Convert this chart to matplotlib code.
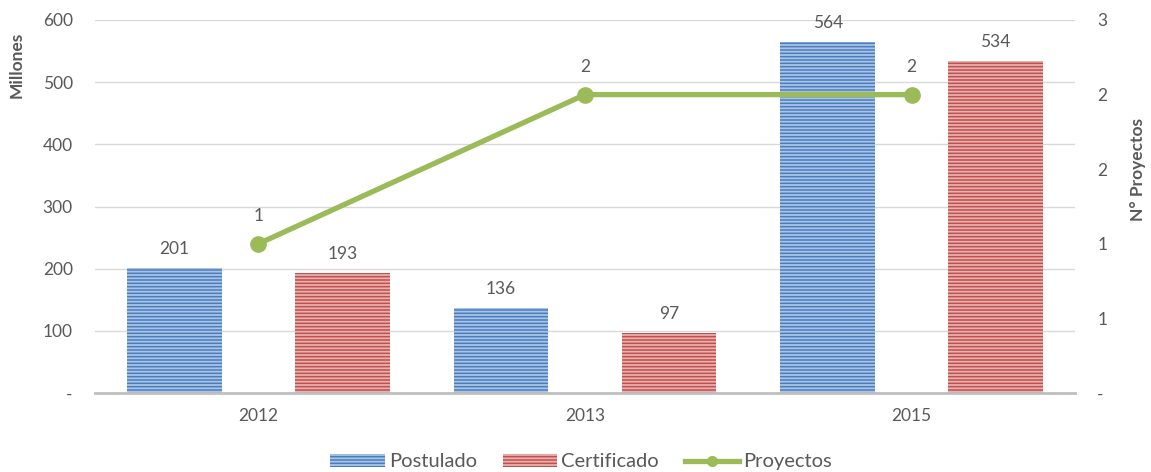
import matplotlib
matplotlib.use("Agg")
import matplotlib.pyplot as plt
import numpy as np
from matplotlib.lines import Line2D
from matplotlib.patches import Patch

plt.rcParams['font.family'] = ['Lato', 'DejaVu Sans']
plt.rcParams['hatch.linewidth'] = 1.3

years = ["2012", "2013", "2015"]
postulado = [201, 136, 564]
certificado = [193, 97, 534]
proyectos = [1, 2, 2]

text_color = "#595959"
blue = "#4a7ebb"
blue_light = "#a9c4e8"
red = "#c0504d"
red_light = "#e8b0ae"
green = "#9bbb59"

fig = plt.figure(figsize=(11.51, 4.72), dpi=100)
ax = fig.add_axes([95 / 1151, 1 - 393 / 472, 980 / 1151, 373 / 472])
ax2 = ax.twinx()

x = np.arange(len(years))
w = 0.29
off = 0.257

bars1 = ax.bar(x - off, postulado, w, facecolor=blue, edgecolor=blue_light,
               hatch="-----", linewidth=0, zorder=2)
bars2 = ax.bar(x + off, certificado, w, facecolor=red, edgecolor=red_light,
               hatch="-----", linewidth=0, zorder=2)

for b, v in zip(list(bars1) + list(bars2), postulado + certificado):
    ax.annotate(f"{v}", (b.get_x() + b.get_width() / 2, v), xytext=(0, 8),
                textcoords="offset points", ha="center", va="bottom",
                fontsize=12.5, color=text_color)

ax.set_xlim(-0.5, len(years) - 0.5)
ax.set_ylim(0, 600)
ax.set_yticks(range(0, 601, 100))
ax.set_yticklabels(["-"] + [str(v) for v in range(100, 601, 100)])
ax.grid(axis="y", color="#d9d9d9", linewidth=1, zorder=0)
ax.set_axisbelow(True)
ax.set_xticks(x)
ax.set_xticklabels(years)
ax.tick_params(axis="both", length=0, labelsize=12.5, colors=text_color)
ax.tick_params(axis="y", pad=16)
ax.tick_params(axis="x", pad=11)
for s in ["top", "left", "right"]:
    ax.spines[s].set_visible(False)
ax.spines["bottom"].set_color("#bfbfbf")
ax.spines["bottom"].set_linewidth(2)
ax.set_ylabel("Millones", fontsize=12.5, fontweight="bold", color=text_color)
ax.yaxis.set_label_coords(-0.072, 0.88)

ax2.plot(x, proyectos, color=green, linewidth=3.8, marker="o", markersize=11,
         zorder=3)
for xi, v in zip(x, proyectos):
    ax2.annotate(f"{v}", (xi, v), xytext=(0, 14), textcoords="offset points",
                 ha="center", va="bottom", fontsize=12.5, color=text_color)
ax2.set_ylim(0, 2.5)
r_ticks = [0, 0.5, 1.0, 1.5, 2.0, 2.5]
ax2.set_yticks(r_ticks)
ax2.set_yticklabels(["-", "1", "1", "2", "2", "3"])
ax2.tick_params(axis="y", length=0, labelsize=12.5, colors=text_color, pad=16)
for s in ["top", "left", "right", "bottom"]:
    ax2.spines[s].set_visible(False)
ax2.set_ylabel("N° Proyectos", fontsize=12.5, fontweight="bold",
               color=text_color)
ax2.yaxis.set_label_coords(1.056, 0.6)

handles = [
    Patch(facecolor=blue, edgecolor=blue_light, hatch="-----", linewidth=0),
    Patch(facecolor=red, edgecolor=red_light, hatch="-----", linewidth=0),
    Line2D([0], [0], color=green, linewidth=3.8, marker="o", markersize=7),
]
fig.legend(handles, ["Postulado", "Certificado", "Proyectos"],
           loc="lower center", bbox_to_anchor=(0.505, -0.035), ncol=3,
           frameon=False, fontsize=14.5, labelcolor=text_color,
           handlelength=2.7, handleheight=0.6, handletextpad=0.2,
           columnspacing=1.3)

fig.savefig("out.png", dpi=100)
